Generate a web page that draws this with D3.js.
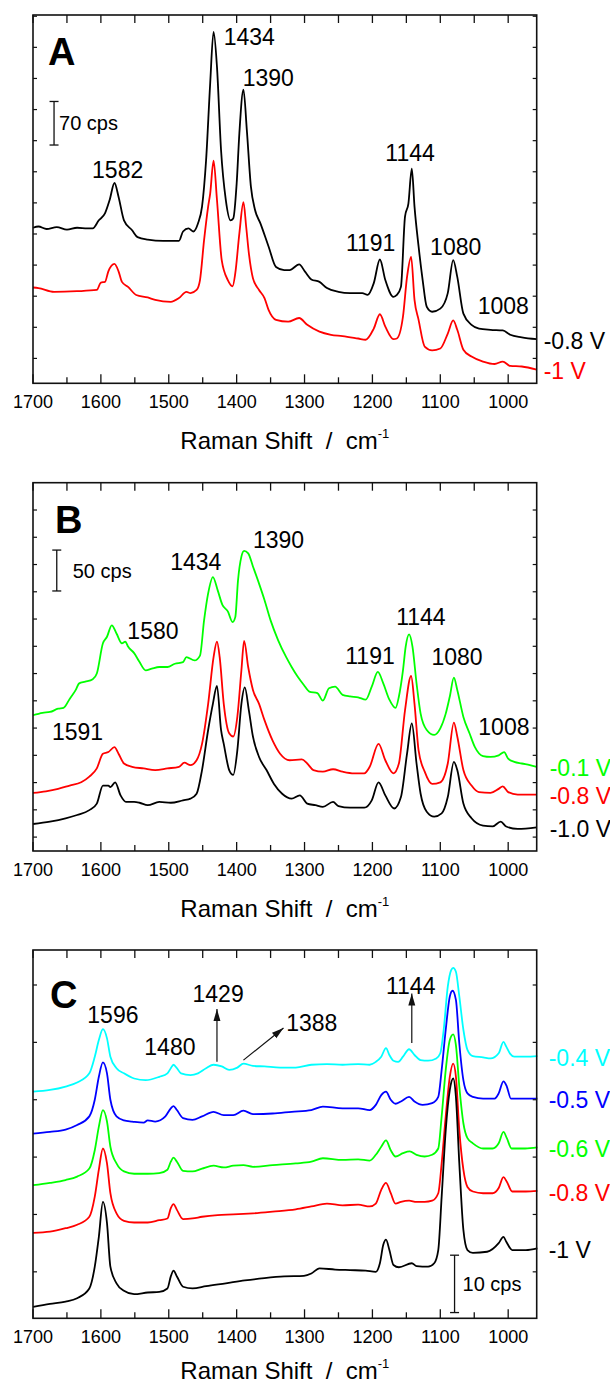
<!DOCTYPE html>
<html>
<head>
<meta charset="utf-8">
<script src="https://cdn.jsdelivr.net/npm/d3@7"></script>
<style>
  body { margin: 0; background: #fff; }
  svg { display: block; font-family: "Liberation Sans", Arial, sans-serif; }
</style>
</head>
<body>
<svg id="chart" width="610" height="1387"></svg>
<script>
// x axis
var wavenumberTicks = [1700, 1600, 1500, 1400, 1300, 1200, 1100, 1000];

// Panel A spectra [wavenumber, cps]
var aBlack08 = [[1700,210],[1692,212],[1680,208],[1665,211],[1650,207],[1635,210],[1620,209],[1612,209],[1603,222],[1594,233],[1587,255],[1580,282],[1574,260],[1566,222],[1554,206],[1546,195],[1531,191],[1508,189],[1485,189],[1479,204],[1471,209],[1464,204],[1457,217],[1451,244],[1445,319],[1439,442],[1434,525],[1429,469],[1423,335],[1416,255],[1409,222],[1405,225],[1400,281],[1396,362],[1390,432],[1385,367],[1379,276],[1373,239],[1365,217],[1353,180],[1342,147],[1330,142],[1322,142],[1308,151],[1299,139],[1290,127],[1278,123],[1267,113],[1250,107],[1233,105],[1215,105],[1207,102],[1198,121],[1189,159],[1181,126],[1169,99],[1164,102],[1158,115],[1152,228],[1147,249],[1142,305],[1138,244],[1132,180],[1126,126],[1120,83],[1112,75],[1100,80],[1089,105],[1081,158],[1075,131],[1066,72],[1054,54],[1043,48],[1026,46],[1008,45],[997,38],[980,34],[958,31]];
var aRed10 = [[1700,114],[1692,113],[1669,107],[1635,108],[1606,110],[1600,122],[1594,123],[1589,140],[1580,152],[1574,140],[1569,123],[1560,115],[1548,102],[1531,98],[1520,94],[1497,91],[1485,97],[1474,107],[1468,105],[1459,110],[1454,126],[1448,190],[1442,244],[1439,265],[1434,318],[1429,255],[1422,158],[1413,126],[1406,116],[1402,137],[1396,201],[1390,251],[1386,212],[1382,169],[1376,129],[1367,110],[1359,97],[1353,78],[1342,62],[1324,59],[1308,65],[1296,54],[1278,43],[1261,38],[1244,36],[1221,32],[1210,30],[1198,48],[1189,71],[1181,51],[1169,31],[1164,32],[1155,67],[1149,131],[1143,163],[1138,94],[1132,62],[1123,19],[1112,13],[1100,16],[1089,40],[1081,61],[1075,46],[1066,14],[1054,3],[1037,-5],[1020,-9],[1008,-5],[997,-12],[980,-13],[958,-18]];

// Panel B spectra
var bGreen01 = [[1700,149],[1686,152],[1675,153],[1663,157],[1655,158],[1646,169],[1637,180],[1632,188],[1623,190],[1612,193],[1606,200],[1597,237],[1591,245],[1584,259],[1577,249],[1569,237],[1564,239],[1560,233],[1551,225],[1543,214],[1534,204],[1525,206],[1514,208],[1502,208],[1491,212],[1479,214],[1474,220],[1462,216],[1454,222],[1448,265],[1442,298],[1435,318],[1428,302],[1421,284],[1413,276],[1406,263],[1402,269],[1398,314],[1393,343],[1389,350],[1383,347],[1376,331],[1367,310],[1359,290],[1350,265],[1339,241],[1327,220],[1319,208],[1310,196],[1301,186],[1293,178],[1281,176],[1273,167],[1264,182],[1255,184],[1244,174],[1233,172],[1221,171],[1210,168],[1201,184],[1192,202],[1184,188],[1175,168],[1166,158],[1161,172],[1155,204],[1151,233],[1146,248],[1141,233],[1135,188],[1129,151],[1120,131],[1109,125],[1100,133],[1092,151],[1086,172],[1080,195],[1075,180],[1066,147],[1057,127],[1049,110],[1037,99],[1026,98],[1014,100],[1006,104],[1000,96],[991,92],[980,90],[968,88],[958,86]];
var bRed08 = [[1700,54],[1681,56],[1663,59],[1646,63],[1629,67],[1617,74],[1606,84],[1597,102],[1589,104],[1580,110],[1574,102],[1566,90],[1554,86],[1537,84],[1520,82],[1502,84],[1485,86],[1477,91],[1468,88],[1459,94],[1451,114],[1442,163],[1434,220],[1429,239],[1425,220],[1419,163],[1411,127],[1405,123],[1399,147],[1393,204],[1389,240],[1383,208],[1376,180],[1367,163],[1359,143],[1347,118],[1336,102],[1322,94],[1304,95],[1296,90],[1287,82],[1273,80],[1258,83],[1244,80],[1227,78],[1212,78],[1204,86],[1191,114],[1181,94],[1169,78],[1161,90],[1152,155],[1143,197],[1138,163],[1132,106],[1123,80],[1112,65],[1100,67],[1089,90],[1080,140],[1075,123],[1066,82],[1054,63],[1043,55],[1026,54],[1014,59],[1008,62],[1000,55],[986,52],[958,52]];
var bBlack10 = [[1700,16],[1675,19],[1652,23],[1635,27],[1617,33],[1606,41],[1597,63],[1589,63],[1586,61],[1579,67],[1571,51],[1563,43],[1551,43],[1543,42],[1531,39],[1514,43],[1497,42],[1479,45],[1468,47],[1459,53],[1451,82],[1442,131],[1435,163],[1429,185],[1423,131],[1419,114],[1411,82],[1405,76],[1399,106],[1393,163],[1388,183],[1382,155],[1376,123],[1367,98],[1356,82],[1345,65],[1333,53],[1319,47],[1307,51],[1296,41],[1284,39],[1273,37],[1258,43],[1250,38],[1233,36],[1212,36],[1201,45],[1191,67],[1181,51],[1168,35],[1158,49],[1149,102],[1142,139],[1135,90],[1129,53],[1120,31],[1109,25],[1098,29],[1089,49],[1080,92],[1075,82],[1066,41],[1054,23],[1037,14],[1023,13],[1011,19],[1003,13],[986,10],[958,12]];

// Panel C spectra
var cCyan04 = [[1700,31.4],[1675,31.7],[1652,32.3],[1635,33.0],[1617,34.6],[1609,37.5],[1603,40.4],[1597,42.3],[1591,40.7],[1586,37.5],[1577,35.5],[1566,34.6],[1551,33.7],[1534,33.4],[1514,34.0],[1502,34.6],[1497,35.5],[1493,36.1],[1488,35.5],[1482,34.6],[1468,34.3],[1457,34.6],[1445,35.5],[1434,36.1],[1422,35.8],[1411,35.2],[1399,35.6],[1390,36.3],[1376,35.9],[1359,35.8],[1336,35.6],[1313,35.6],[1290,36.1],[1267,36.2],[1244,36.1],[1221,36.2],[1204,36.1],[1195,36.6],[1187,37.5],[1180,39.0],[1175,37.8],[1169,36.8],[1162,36.6],[1155,37.5],[1146,38.8],[1138,37.8],[1129,36.9],[1118,36.8],[1106,37.2],[1100,38.1],[1095,42.2],[1089,49.7],[1084,52.6],[1081,53.0],[1077,52.3],[1072,48.0],[1066,42.2],[1060,38.7],[1052,37.6],[1037,37.4],[1026,37.2],[1014,38.1],[1007,40.1],[1003,39.3],[997,38.0],[991,37.5],[974,37.5],[957,37.6]];
var cBlue05 = [[1700,24.1],[1675,24.4],[1652,24.8],[1635,25.6],[1617,27.1],[1609,30.0],[1603,34.0],[1597,36.5],[1591,34.6],[1586,30.0],[1577,27.1],[1566,26.4],[1554,26.2],[1537,26.0],[1531,26.4],[1520,26.2],[1505,27.1],[1497,28.5],[1493,28.9],[1488,28.2],[1479,26.8],[1465,26.5],[1451,27.1],[1434,27.9],[1419,27.3],[1405,27.3],[1390,28.1],[1376,27.5],[1347,27.6],[1319,27.9],[1290,28.2],[1273,28.8],[1244,28.5],[1221,28.5],[1204,28.2],[1195,29.1],[1187,30.8],[1180,31.4],[1173,30.0],[1166,29.3],[1158,29.7],[1146,30.5],[1138,29.7],[1126,29.1],[1112,29.4],[1103,30.5],[1098,35.2],[1092,42.2],[1086,48.0],[1082,49.0],[1077,47.4],[1072,39.8],[1066,33.4],[1060,31.1],[1052,30.5],[1037,30.2],[1020,30.2],[1014,31.1],[1007,33.2],[1002,32.3],[996,30.2],[980,30.2],[957,30.2]];
var cGreen06 = [[1700,15.1],[1675,15.5],[1652,16.0],[1635,16.6],[1617,18.0],[1609,21.2],[1603,25.3],[1597,28.2],[1591,26.2],[1586,21.8],[1577,18.9],[1566,17.5],[1551,17.1],[1531,17.1],[1514,17.2],[1502,17.8],[1497,19.2],[1493,19.9],[1488,19.2],[1479,17.6],[1465,17.5],[1451,18.0],[1434,18.5],[1419,18.2],[1405,18.5],[1390,18.6],[1376,18.3],[1347,18.6],[1313,18.9],[1290,19.2],[1273,19.8],[1244,19.5],[1221,19.6],[1204,19.4],[1195,20.4],[1187,21.8],[1180,22.9],[1173,21.2],[1166,20.1],[1155,20.7],[1145,21.0],[1135,20.4],[1123,20.1],[1112,20.4],[1103,21.5],[1098,27.1],[1092,35.2],[1086,40.4],[1081,41.4],[1077,39.5],[1072,32.3],[1066,25.9],[1060,23.3],[1052,22.4],[1037,21.5],[1023,21.5],[1014,22.4],[1007,24.4],[1002,23.3],[995,21.5],[975,21.5],[957,21.7]];
var cRed08 = [[1700,6.8],[1675,7.0],[1652,7.6],[1635,8.2],[1617,9.6],[1609,13.1],[1603,17.8],[1597,21.5],[1591,18.9],[1586,13.7],[1577,10.2],[1566,8.9],[1551,8.6],[1531,8.6],[1514,9.0],[1502,9.3],[1497,11.1],[1493,11.8],[1488,10.8],[1479,9.2],[1465,9.3],[1451,9.6],[1428,9.9],[1405,10.0],[1376,10.2],[1347,10.5],[1313,10.9],[1290,11.4],[1267,11.9],[1244,11.6],[1221,11.7],[1204,11.4],[1195,11.9],[1187,14.3],[1180,15.5],[1173,13.7],[1166,11.9],[1158,12.2],[1146,12.4],[1135,12.2],[1123,12.2],[1112,12.4],[1103,13.7],[1098,18.9],[1092,27.1],[1086,34.0],[1081,36.3],[1077,34.0],[1072,24.7],[1066,17.8],[1060,14.8],[1052,14.0],[1037,13.7],[1023,13.7],[1014,14.6],[1007,16.5],[1002,15.7],[994,14.0],[974,14.0],[957,14.1]];
var cBlack10 = [[1700,-6.1],[1675,-5.6],[1652,-5.2],[1635,-4.6],[1617,-2.9],[1609,0.9],[1603,6.1],[1597,12.2],[1591,8.5],[1586,0.9],[1577,-2.0],[1566,-3.3],[1551,-3.9],[1531,-3.6],[1514,-3.5],[1502,-2.9],[1497,-0.8],[1493,0.2],[1488,-0.8],[1479,-2.6],[1465,-2.9],[1445,-2.5],[1416,-2.0],[1388,-1.5],[1359,-1.1],[1330,-0.8],[1301,-0.7],[1290,-0.3],[1278,0.6],[1255,0.4],[1233,0.3],[1210,0.2],[1195,0.0],[1189,1.5],[1184,4.7],[1180,5.6],[1175,3.8],[1169,1.2],[1161,0.8],[1142,1.5],[1135,1.0],[1118,0.9],[1109,1.5],[1103,3.8],[1098,13.1],[1092,24.7],[1086,31.7],[1081,33.7],[1077,30.5],[1072,18.9],[1066,7.3],[1060,3.8],[1052,3.3],[1031,3.5],[1014,5.0],[1007,6.1],[1003,5.3],[994,3.8],[974,3.8],[957,4.1]];

// peak labels [text, wavenumber, cps]
var aPeaks = [["1434",1419,504],["1390",1391,438],["1582",1613,290],["1144",1181,317],["1191",1239,173],["1080",1115,166],["1008",1045,71]];
var bPeaks = [["1434",1498,327],["1390",1376,353],["1580",1561,242],["1591",1672,119],["1191",1240,212],["1144",1165,259],["1080",1113,210],["1008",1044,125]];
var cPeaks = [["1596",1620,43.3],["1480",1536,37.8],["1429",1465,47.1],["1388",1327,41.9],["1144",1180,48.4]];
// arrows [wn from, cps from, wn to, cps to]
var cArrows = [[1429,36.6,1429,45.8],[1390,36.9,1331,42.5],[1142,39.9,1142,48.5]];
// scale bars [wavenumber, cps bottom, length in cps]
var aBar = [1669, 343, 70];
var bBar = [1665, 301, 50];
var cBar = [1079, -7.1, 10];

var plotLeft = 33, plotRight = 536.7, plotH = 368.3;

var panels = [
  {top: 15, yDomain: [-40, 552], yStep: 50, letter: "A", letterX: 48, letterDy: 50, titleDy: 66,
   series: [{data: aBlack08, color: "#000", label: "-0.8 V"}, {data: aRed10, color: "#ff0000", label: "-1 V"}],
   labelDx: 7, peaks: aPeaks, arrows: [], bar: aBar, barText: "70 cps", barDx: 5},
  {top: 482.7, yDomain: [-17, 433.4], yStep: 100 / 3, letter: "B", letterX: 55, letterDy: 50.6, titleDy: 66,
   series: [{data: bGreen01, color: "#00ff00", label: "-0.1 V"}, {data: bRed08, color: "#ff0000", label: "-0.8 V"}, {data: bBlack10, color: "#000", label: "-1.0 V"}],
   labelDx: 13, peaks: bPeaks, arrows: [], bar: bBar, barText: "50 cps", barDx: 16},
  {top: 950, yDomain: [-8.1, 56.1], yStep: 10, letter: "C", letterX: 50, letterDy: 58, titleDy: 61,
   series: [{data: cCyan04, color: "#00ffff", label: "-0.4 V"}, {data: cBlue05, color: "#0000ff", label: "-0.5 V"}, {data: cGreen06, color: "#00ff00", label: "-0.6 V"}, {data: cRed08, color: "#ff0000", label: "-0.8 V"}, {data: cBlack10, color: "#000", label: "-1 V"}],
   labelDx: 12, peaks: cPeaks, arrows: cArrows, bar: cBar, barText: "10 cps", barDx: 8}
];

var svg = d3.select("#chart");
var x = d3.scaleLinear().domain([1700, 958]).range([plotLeft, plotRight]);

svg.append("defs").append("marker")
    .attr("id", "arrowhead")
    .attr("markerUnits", "userSpaceOnUse")
    .attr("viewBox", "0 -4 12 8")
    .attr("markerWidth", 12)
    .attr("markerHeight", 8)
    .attr("refX", 12)
    .attr("refY", 0)
    .attr("orient", "auto")
  .append("path")
    .attr("d", "M0,-3.5L12,0L0,3.5Z")
    .attr("fill", "#111");

panels.forEach(function(p){
  var bottom = p.top + plotH;
  var y = d3.scaleLinear().domain(p.yDomain).range([bottom, p.top]);
  var g = svg.append("g");

  var line = d3.line()
      .x(function(d) { return x(d[0]); })
      .y(function(d) { return y(d[1]); })
      .curve(d3.curveMonotoneX);

  p.series.forEach(function(s){
    g.append("path")
        .datum(s.data)
        .attr("fill", "none")
        .attr("stroke", s.color)
        .attr("stroke-width", 1.8)
        .attr("stroke-linejoin", "round")
        .attr("d", line);

    var last = s.data[s.data.length - 1];
    g.append("text")
        .attr("x", plotRight + p.labelDx)
        .attr("y", y(last[1]))
        .attr("dy", "0.42em")
        .attr("fill", s.color)
        .attr("font-size", 23)
        .text(s.label);
  });

  // frame
  g.append("rect")
      .attr("x", plotLeft).attr("y", p.top)
      .attr("width", plotRight - plotLeft).attr("height", plotH)
      .attr("fill", "none").attr("stroke", "#111").attr("stroke-width", 1.6);

  // x ticks, inward, bottom and top
  d3.range(1700, 957, -50).forEach(function(v){
    var major = v % 100 === 0;
    g.append("line")
        .attr("x1", x(v)).attr("x2", x(v))
        .attr("y1", bottom).attr("y2", bottom - (major ? 9 : 6))
        .attr("stroke", "#111").attr("stroke-width", 1.3);
    g.append("line")
        .attr("x1", x(v)).attr("x2", x(v))
        .attr("y1", p.top).attr("y2", p.top + 8)
        .attr("stroke", "#111").attr("stroke-width", 1.3);
  });

  // y ticks, no labels
  d3.range(0, p.yDomain[1] - 1, p.yStep).forEach(function(v){
    g.append("line")
        .attr("x1", plotLeft).attr("x2", plotLeft + 4)
        .attr("y1", y(v)).attr("y2", y(v))
        .attr("stroke", "#111").attr("stroke-width", 1.2);
    g.append("line")
        .attr("x1", plotRight).attr("x2", plotRight - 4)
        .attr("y1", y(v)).attr("y2", y(v))
        .attr("stroke", "#111").attr("stroke-width", 1.2);
  });

  wavenumberTicks.forEach(function(v){
    g.append("text")
        .attr("x", x(v)).attr("y", bottom + 25)
        .attr("text-anchor", "middle")
        .attr("font-size", 18)
        .text(v);
  });

  var title = g.append("text")
      .attr("x", (plotLeft + plotRight) / 2)
      .attr("y", bottom + p.titleDy)
      .attr("text-anchor", "middle")
      .attr("font-size", 24);
  title.append("tspan").text("Raman Shift\u00a0\u00a0/\u00a0\u00a0cm");
  title.append("tspan").attr("font-size", 13).attr("dy", -11).text("-1");

  // panel letter
  g.append("text")
      .attr("x", p.letterX).attr("y", p.top + p.letterDy)
      .attr("font-size", 38).attr("font-weight", "bold")
      .text(p.letter);

  // peak labels
  p.peaks.forEach(function(pk){
    g.append("text")
        .attr("x", x(pk[1])).attr("y", y(pk[2]))
        .attr("font-size", 23)
        .text(pk[0]);
  });

  p.arrows.forEach(function(a){
    g.append("line")
        .attr("x1", x(a[0])).attr("y1", y(a[1]))
        .attr("x2", x(a[2])).attr("y2", y(a[3]))
        .attr("stroke", "#111").attr("stroke-width", 1.2)
        .attr("marker-end", "url(#arrowhead)");
  });

  // scale bar
  var bx = x(p.bar[0]), by0 = y(p.bar[1]), by1 = y(p.bar[1] + p.bar[2]);
  g.append("line").attr("x1", bx).attr("x2", bx).attr("y1", by0).attr("y2", by1)
      .attr("stroke", "#111").attr("stroke-width", 1.3);
  [by0, by1].forEach(function(yy){
    g.append("line").attr("x1", bx - 4.5).attr("x2", bx + 4.5).attr("y1", yy).attr("y2", yy)
        .attr("stroke", "#111").attr("stroke-width", 1.3);
  });
  g.append("text")
      .attr("x", bx + p.barDx).attr("y", (by0 + by1) / 2)
      .attr("dy", "0.35em")
      .attr("font-size", 20)
      .text(p.barText);
});
</script>
</body>
</html>
